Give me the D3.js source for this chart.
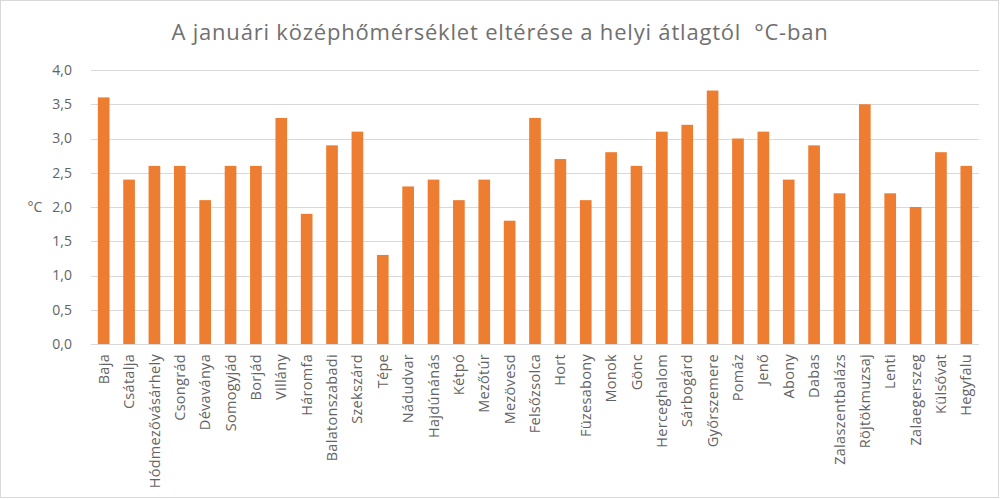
<!DOCTYPE html>
<html>
<head>
<meta charset="utf-8">
<script src="https://cdn.jsdelivr.net/npm/d3@7"></script>
<style>
  body { margin: 0; background: #fff; }
  svg text { font-family: "Open Sans", "Noto Sans", sans-serif; fill: #636363; white-space: pre; }
</style>
</head>
<body>
<svg id="chart" width="1000" height="499"></svg>
<script>
// settlement names (x categories)
var towns = ["Baja", "Csátalja", "Hódmezővásárhely", "Csongrád", "Dévaványa", "Somogyjád",
    "Borjád", "Villány", "Háromfa", "Balatonszabadi", "Szekszárd", "Tépe", "Nádudvar",
    "Hajdúnánás", "Kétpó", "Mezőtúr", "Mezövesd", "Felsőzsolca", "Hort", "Füzesabony",
    "Monok", "Gönc", "Herceghalom", "Sárbogárd", "Győrszemere", "Pomáz", "Jenő", "Abony",
    "Dabas", "Zalaszentbalázs", "Röjtökmuzsaj", "Lenti", "Zalaegerszeg", "Külsővat", "Hegyfalu"];

// deviation from local mean, °C
var deviation = [3.6, 2.4, 2.6, 2.6, 2.1, 2.6, 2.6, 3.3, 1.9, 2.9, 3.1, 1.3, 2.3,
    2.4, 2.1, 2.4, 1.8, 3.3, 2.7, 2.1, 2.8, 2.6, 3.1, 3.2, 3.7, 3.0, 3.1, 2.4,
    2.9, 2.2, 3.5, 2.2, 2.0, 2.8, 2.6];

var yTicks = [0, 0.5, 1, 1.5, 2, 2.5, 3, 3.5, 4];

var title = "A januári középhőmérséklet eltérése a helyi átlagtól  °C-ban";

var svg = d3.select("#chart");

// outer chart frame
svg.append("rect")
    .attr("x", 0.5).attr("y", 0.5)
    .attr("width", 998).attr("height", 497)
    .attr("fill", "#fff")
    .attr("stroke", "#d9d9d9");

var plotLeft = 91, plotRight = 979, plotTop = 70, plotBottom = 344;

var x = d3.scaleBand()
    .domain(towns)
    .range([plotLeft, plotRight])
    .paddingInner(0.54)
    .paddingOuter(0.27);

var y = d3.scaleLinear()
    .domain([0, 4])
    .range([plotBottom, plotTop]);

// gridlines
svg.append("g")
    .selectAll("line")
    .data(yTicks)
    .enter()
    .append("line")
    .attr("x1", plotLeft)
    .attr("x2", plotRight)
    .attr("y1", function (d) { return Math.round(y(d)) + 0.5; })
    .attr("y2", function (d) { return Math.round(y(d)) + 0.5; })
    .attr("stroke", "#d9d9d9")
    .attr("stroke-width", 1);

// y tick labels
var fmt = function (d) { return d3.format(".1f")(d).replace(".", ","); };
svg.append("g")
    .selectAll("text")
    .data(yTicks)
    .enter()
    .append("text")
    .attr("x", 72)
    .attr("y", function (d) { return y(d); })
    .attr("dy", "0.35em")
    .attr("text-anchor", "end")
    .style("font-size", "14px")
    .text(fmt);

// bars
svg.append("g")
    .selectAll("rect")
    .data(towns)
    .enter()
    .append("rect")
    .attr("x", function (d) { return x(d); })
    .attr("width", x.bandwidth())
    .attr("y", function (d, i) { return y(deviation[i]); })
    .attr("height", function (d, i) { return y(0) - y(deviation[i]); })
    .attr("fill", "#ed7d31");

// x axis line
svg.append("line")
    .attr("x1", plotLeft).attr("x2", plotRight)
    .attr("y1", plotBottom + 0.5).attr("y2", plotBottom + 0.5)
    .attr("stroke", "#d9d9d9");

// rotated category labels
svg.append("g")
    .selectAll("g")
    .data(towns)
    .enter()
    .append("g")
    .attr("transform", function (d) {
        return "translate(" + (x(d) + x.bandwidth() / 2) + "," + (plotBottom + 10) + ")";
    })
    .append("text")
    .attr("transform", "rotate(-90)")
    .attr("text-anchor", "end")
    .attr("dy", "0.35em")
    .style("font-size", "14.5px")
    .style("letter-spacing", "0.3px")
    .text(function (d) { return d; });

// y axis title
svg.append("text")
    .attr("x", 35)
    .attr("y", y(2))
    .attr("dy", "0.35em")
    .attr("text-anchor", "middle")
    .style("font-size", "14px")
    .text("°C");

// chart title
svg.append("text")
    .attr("x", 500)
    .attr("y", 40)
    .attr("text-anchor", "middle")
    .style("font-size", "22px")
    .style("letter-spacing", "0.8px")
    .style("fill", "#707070")
    .text(title);
</script>
</body>
</html>
